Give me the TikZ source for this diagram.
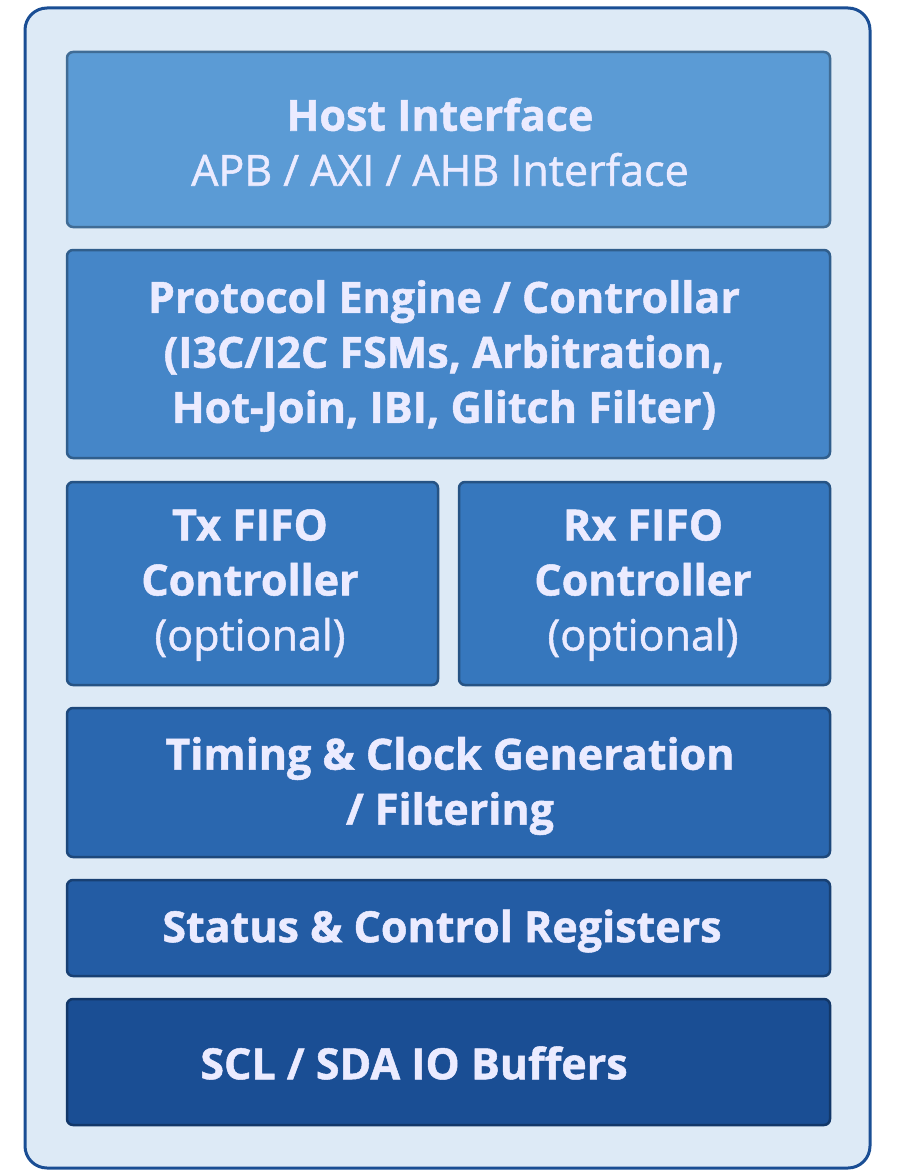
\documentclass[tikz,border=0pt]{standalone}
\usepackage{fontspec}
\setmainfont{Open Sans}[FakeBold=1.2]
\begin{document}
\begin{tikzpicture}[x=1pt,y=-1pt,
  blk/.style={draw=#1!70!black,line width=2.5pt,rounded corners=6pt,fill=#1},
  txt/.style={text=white!92!blue,font=\fontsize{43}{55}\selectfont\bfseries,align=center}]
\definecolor{c1}{HTML}{5B9BD5}
\definecolor{c2}{HTML}{4586C8}
\definecolor{c3}{HTML}{3677BD}
\definecolor{c4}{HTML}{2A67AF}
\definecolor{c5}{HTML}{235CA4}
\definecolor{c6}{HTML}{1A4E94}
\useasboundingbox (0,0) rectangle (905,1172);
\draw[draw=c6,line width=3pt,rounded corners=22pt,fill={rgb,255:red,221;green,234;blue,246}] (25,8) rectangle (870,1168);
\draw[blk=c1] (67,52) rectangle (830,227);
\node[txt] (host) at (440,142) {\textbf{Host Interface}\\\mdseries APB / AXI / AHB Interface};
\draw[blk=c2] (67,250) rectangle (830,458);
\node[txt] (pe) at (444,356) {Protocol Engine / Controllar\\(I3C/I2C FSMs, Arbitration,\\Hot-Join, IBI, Glitch Filter)};
\draw[blk=c3] (67,482) rectangle (438,685);
\node[txt] (tx) at (250,585) {Tx FIFO\\Controller\\\mdseries(optional)};
\draw[blk=c3] (459,482) rectangle (830,685);
\node[txt] (rx) at (643,585) {Rx FIFO\\Controller\\\mdseries(optional)};
\draw[blk=c4] (67,708) rectangle (830,857);
\node[txt] (tim) at (450,786) {Timing \& Clock Generation\\/ Filtering};
\draw[blk=c5] (67,880) rectangle (830,976);
\node[txt] (st) at (442,931) {Status \& Control Registers};
\draw[blk=c6] (67,999) rectangle (830,1125);
\node[txt] (io) at (414,1063) {SCL / SDA IO Buffers};
\end{tikzpicture}
\end{document}
